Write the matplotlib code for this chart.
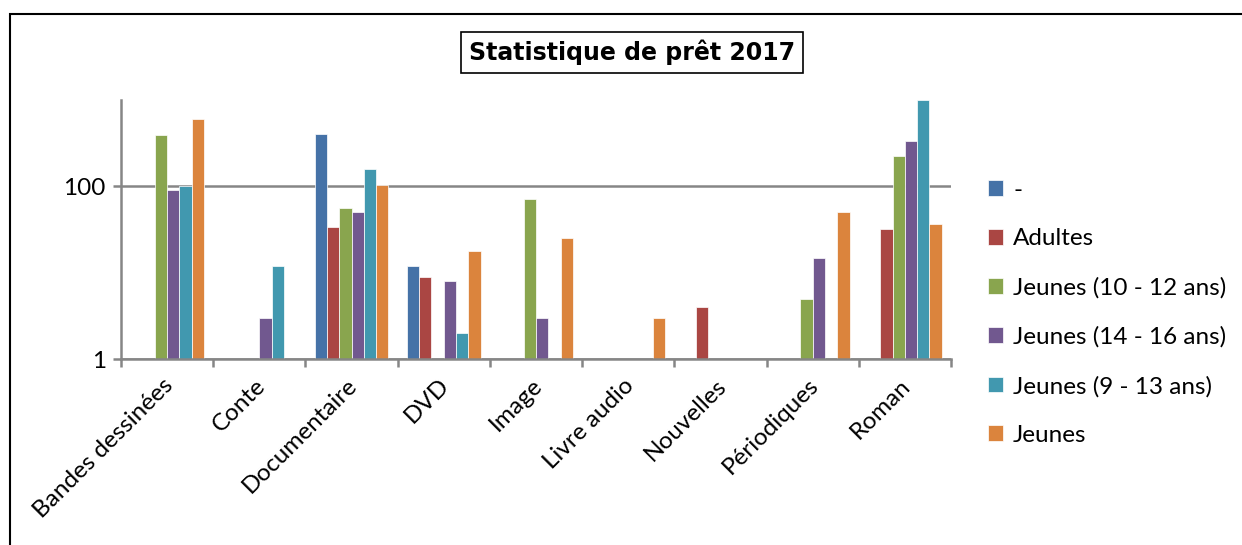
import numpy as np
import matplotlib
matplotlib.use("Agg")
import matplotlib.pyplot as plt
from matplotlib.patches import Rectangle
from matplotlib.ticker import FixedLocator, NullLocator
from matplotlib.transforms import ScaledTranslation

categories = ["Bandes dessinées", "Conte", "Documentaire", "DVD", "Image",
              "Livre audio", "Nouvelles", "Périodiques", "Roman"]
series_names = ["-", "Adultes", "Jeunes (10 - 12 ans)", "Jeunes (14 - 16 ans)",
                "Jeunes (9 - 13 ans)", "Jeunes"]
nan = np.nan
s_dash   = [nan, nan, 400, 12, nan, nan, nan, nan, nan]
s_adult  = [nan, nan, 34, 9, nan, nan, 4, nan, 32]
s_j1012  = [390, nan, 56, nan, 71, nan, nan, 5, 227]
s_j1416  = [92, 3, 51, 8, 3, nan, nan, 15, 338]
s_j913   = [100, 12, 160, 2, nan, nan, nan, nan, 1000]
s_jeunes = [604, nan, 104, 18, 25, 3, nan, 50, 37]
values = [s_dash, s_adult, s_j1012, s_j1416, s_j913, s_jeunes]
colors = ["#4572A7", "#AA4643", "#89A54E", "#71588F", "#4198AF", "#DB843D"]
yticks = [1, 100]
title = "Statistique de prêt 2017"

W, H = 1242, 545
fig = plt.figure(figsize=(W / 100, H / 100), dpi=100)
fig.patch.set_facecolor("white")

# outer chart border
fig.add_artist(Rectangle((10 / W, -0.1), 1.2, (H - 14) / H + 0.1,
                         transform=fig.transFigure, fill=False,
                         edgecolor="black", lw=1.5))

ax = fig.add_axes([121 / W, (H - 359.3) / H, (951 - 121) / W, (359.3 - 100) / H])
ax.set_yscale("log")
ax.set_ylim(1, 1000)
ax.set_xlim(-0.5, len(categories) - 0.5)

x = np.arange(len(categories))
n = len(values)
group = 0.8
bw = group / n
for i, (name, vals, c) in enumerate(zip(series_names, values, colors)):
    v = np.array(vals, dtype=float)
    offs = -group / 2 + bw * (i + 0.5)
    ax.bar(x + offs, v - 1, bottom=1, width=bw, color=c, label=name,
           edgecolor="white", linewidth=0.5, zorder=3)

grey = "#868686"
fs = 17.5
ax.yaxis.set_major_locator(FixedLocator(yticks))
ax.yaxis.set_minor_locator(NullLocator())
ax.set_yticklabels([str(t) for t in yticks])
ax.grid(axis="y", which="major", color=grey, lw=1.8, zorder=1)
ax.set_axisbelow(True)

ax.set_xticks(x)
ax.set_xticklabels(categories, rotation=45, ha="right", va="top",
                   rotation_mode="anchor", fontsize=fs, family="Lato")
ax.tick_params(axis="x", length=0, pad=9)
shift = ScaledTranslation(-5 / 100, -3 / 100, fig.dpi_scale_trans)
for lab in ax.get_xticklabels():
    lab.set_transform(lab.get_transform() + shift)
ax.set_xticks(np.arange(len(categories) + 1) - 0.5, minor=True)
ax.tick_params(axis="x", which="minor", length=6, width=1.8, color=grey)
ax.tick_params(axis="y", length=6, width=1.8, color=grey, labelsize=fs, pad=5)
for lab in ax.get_yticklabels():
    lab.set_family("Lato")

for s in ["top", "right"]:
    ax.spines[s].set_visible(False)
for s in ["left", "bottom"]:
    ax.spines[s].set_color(grey)
    ax.spines[s].set_linewidth(1.8)
ax.spines["bottom"].set_zorder(4)

# title with box
fig.text(632 / W, 1 - 52.5 / H, title, ha="center", va="center",
         fontsize=17, fontweight="bold", family="DejaVu Sans",
         bbox=dict(boxstyle="square,pad=0.33", facecolor="white",
                   edgecolor="black", lw=1.2))

leg = fig.legend(loc="upper left", bbox_to_anchor=(978 / W, 1 - 170 / H),
                 frameon=False, prop={"family": "Lato", "size": fs},
                 handlelength=0.62, handleheight=0.62, handletextpad=0.42,
                 labelspacing=1.14, borderaxespad=0)

fig.savefig("out.png", dpi=100, facecolor="white")
